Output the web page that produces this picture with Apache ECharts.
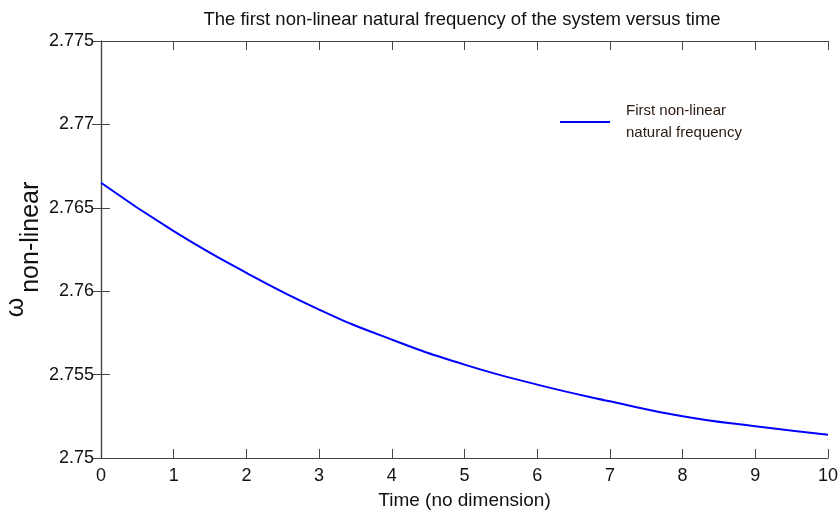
<!DOCTYPE html>
<html>
<head>
<meta charset="utf-8">
<script src="https://cdn.jsdelivr.net/npm/echarts@6/dist/echarts.min.js"></script>
<style>
  html, body { margin: 0; padding: 0; background: #fff; }
  #main { width: 840px; height: 519px; }
</style>
</head>
<body>
<div id="main"></div>
<script>
// time values (no dimension) and the frequency
const timeValues = [0, 1, 2, 3, 4, 5, 6, 7, 8, 9, 10];
const freqValues = [2.7665, 2.7636, 2.7611, 2.7589, 2.7571, 2.7556, 2.7544, 2.7534, 2.7525, 2.7519, 2.7514];
const yTickLabels = ['2.75', '2.755', '2.76', '2.765', '2.77', '2.775'];
const xTickLabels = ['0', '1', '2', '3', '4', '5', '6', '7', '8', '9', '10'];

const axisColor = '#444';
const font = 'Liberation Sans, Arial, sans-serif';

const fmtY = function (v) {
  const s = parseFloat(v.toFixed(3)).toString();
  return yTickLabels.indexOf(s) >= 0 ? s : '';
};

let chart = echarts.init(document.getElementById('main'));
let option = {
  animation: false,
  title: {
    text: 'The first non-linear natural frequency of the system versus time',
    left: 457,
    textAlign: 'center',
    top: 5,
    textStyle: { fontFamily: font, fontSize: 18.5, fontWeight: 'normal', color: '#111' }
  },
  legend: {
    left: 555,
    top: 92,
    itemWidth: 50,
    itemHeight: 2,
    icon: 'rect',
    textStyle: { fontFamily: font, fontSize: 15, color: '#2a1a10', lineHeight: 22, padding: [0, 0, 6, 11] },
    data: ['First non-linear\nnatural frequency']
  },
  grid: { left: 101, right: 12, top: 41, bottom: 61, outerBoundsMode: 'none' },
  xAxis: [
    {
      type: 'value',
      min: 0, max: 10, interval: 1,
      name: 'Time (no dimension)',
      nameLocation: 'middle',
      nameGap: 33,
      nameTextStyle: { fontFamily: font, fontSize: 19, color: '#111' },
      axisLine: { lineStyle: { color: axisColor, width: 1.2 } },
      axisTick: { inside: true, length: 9, lineStyle: { color: axisColor } },
      axisLabel: {
        fontFamily: font, fontSize: 18, color: '#111', margin: 9,
        formatter: function (v) { return xTickLabels[Math.round(v)]; }
      },
      splitLine: { show: false }
    },
    {
      type: 'value',
      position: 'top',
      min: 0, max: 10, interval: 1,
      axisLine: { lineStyle: { color: axisColor, width: 1.2 } },
      axisTick: { inside: true, length: 9, lineStyle: { color: axisColor } },
      axisLabel: { show: false },
      splitLine: { show: false }
    }
  ],
  yAxis: [
    {
      type: 'value',
      min: 2.75, max: 2.775, interval: 0.005,
      name: '{w|ω}{s|non-linear}',
      nameLocation: 'middle',
      nameRotate: 90,
      nameGap: 57,
      nameMoveOverlap: false,
      nameTextStyle: {
        fontFamily: font, color: '#111',
        rich: {
          w: { fontFamily: font, fontSize: 25, color: '#111', lineHeight: 40, verticalAlign: 'top', padding: [0, 5, 0, 0] },
          s: { fontFamily: font, fontSize: 25, color: '#111', lineHeight: 40, verticalAlign: 'bottom' }
        }
      },
      axisLine: { show: true, lineStyle: { color: axisColor, width: 1.2 } },
      axisTick: { show: true, inside: true, length: 9, lineStyle: { color: axisColor } },
      axisLabel: { fontFamily: font, fontSize: 18, color: '#111', margin: 7, formatter: fmtY },
      splitLine: { show: false }
    },
    {
      type: 'value',
      position: 'right',
      min: 2.75, max: 2.775, interval: 0.005,
      axisLine: { show: true, lineStyle: { color: axisColor, width: 1.2 } },
      axisTick: { show: true, inside: true, length: 9, lineStyle: { color: axisColor } },
      axisLabel: { show: false },
      splitLine: { show: false }
    }
  ],
  series: [
    {
      name: 'First non-linear\nnatural frequency',
      type: 'line',
      smooth: true,
      symbol: 'none',
      lineStyle: { color: '#0000ff', width: 2 },
      itemStyle: { color: '#0000ff' },
      data: timeValues.map(function (t, i) { return [t, freqValues[i]]; })
    }
  ]
};
chart.setOption(option);
window.addEventListener('resize', () => {
  chart.resize();
});
</script>
</body>
</html>
